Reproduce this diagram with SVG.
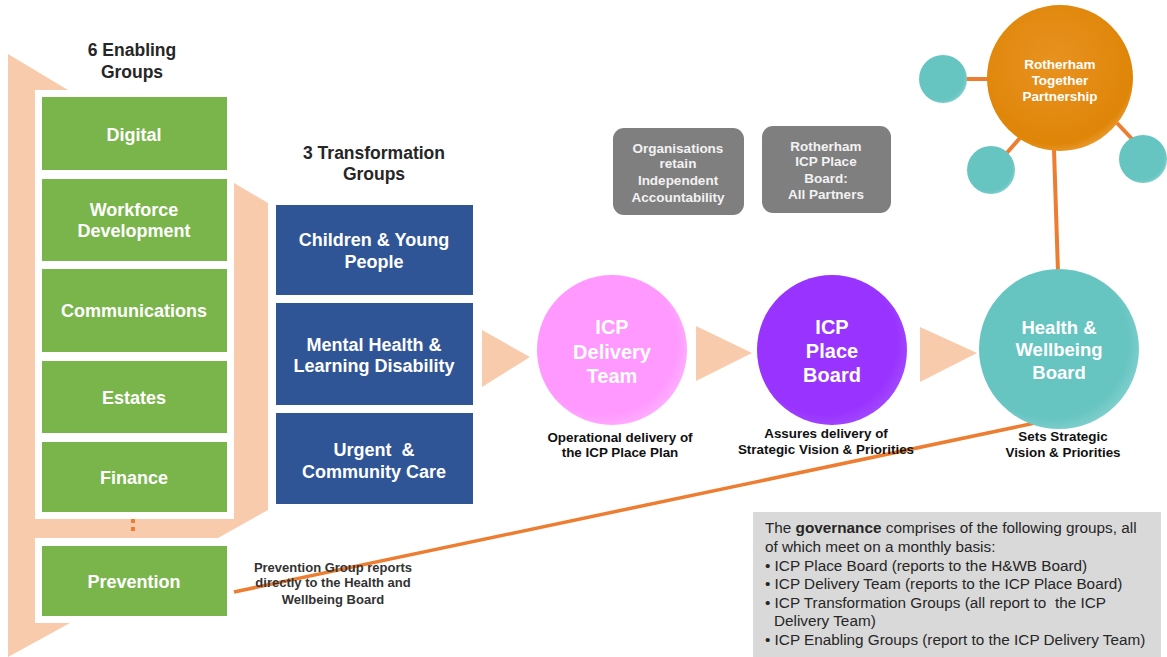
<svg xmlns="http://www.w3.org/2000/svg" width="1167" height="657" viewBox="0 0 1167 657">
<style>
.t{font-family:"Liberation Sans",Arial,sans-serif;font-weight:bold;text-anchor:middle}
.w{fill:#FFFFFF}
.dk{fill:#262626}
.gr{fill:#7AB54C}
.bl{fill:#2F5597}
.peach{fill:#F8CBAD}
.gbox{fill:#7F7F7F}
.con{stroke:#ED7D31;fill:none}
.gov{font-family:"Liberation Sans",Arial,sans-serif;font-size:15.3px;fill:#262626}
</style>
<defs>
<radialGradient id="gPink" cx="0.45" cy="0.45" r="0.6"><stop offset="0.8" stop-color="#FF99FF"/><stop offset="1" stop-color="#FFB3FF"/></radialGradient>
<radialGradient id="gPurp" cx="0.45" cy="0.45" r="0.6"><stop offset="0.8" stop-color="#9933FF"/><stop offset="1" stop-color="#A54DFF"/></radialGradient>
<radialGradient id="gTeal" cx="0.45" cy="0.45" r="0.6"><stop offset="0.8" stop-color="#66C4C1"/><stop offset="1" stop-color="#85D3D0"/></radialGradient>
<radialGradient id="gOr" cx="0.45" cy="0.4" r="0.65"><stop offset="0" stop-color="#E89220"/><stop offset="0.85" stop-color="#DF8508"/><stop offset="1" stop-color="#F0A440"/></radialGradient>
</defs>
<rect width="1167" height="657" fill="#FFFFFF"/>

<g id="background-arrows">
<path class="peach" d="M8,54 L68,90 L35,90 L35,519 L234,519 L234,183 L268,203 L268,510 L218,538 L35,538 L35,623 L70,623 L8,657 Z"/>
<rect x="131" y="519" width="4" height="4" fill="#ED7D31"/>
<rect x="131" y="527" width="4" height="4" fill="#ED7D31"/>
<polygon class="peach" points="482,330 530,357 482,387"/>
<polygon class="peach" points="696,326 752,353 696,381"/>
<polygon class="peach" points="920,327 977,353 920,382"/>
</g>

<g id="titles">
<text class="t dk" font-size="17.5" x="132" y="56">6 Enabling</text>
<text class="t dk" font-size="17.5" x="132" y="78">Groups</text>
<text class="t dk" font-size="17.5" x="374" y="159">3 Transformation</text>
<text class="t dk" font-size="17.5" x="374" y="180">Groups</text>
</g>

<g id="connectors">
<line class="con" x1="234" y1="592" x2="1035" y2="423" stroke-width="3.5"/>
<line class="con" x1="1054" y1="150" x2="1058" y2="272" stroke-width="4"/>
<line class="con" x1="965" y1="79" x2="990" y2="79" stroke-width="4"/>
<line class="con" x1="1005" y1="155" x2="1020" y2="138" stroke-width="4"/>
<line class="con" x1="1117" y1="123" x2="1133" y2="140" stroke-width="4"/>
</g>

<g id="digital"><rect class="gr" x="42" y="97" width="185" height="73"/><text class="t w" font-size="18" x="134" y="141">Digital</text></g>
<g id="workforce"><rect class="gr" x="42" y="179" width="185" height="82"/><text class="t w" font-size="18" x="134" y="216">Workforce</text><text class="t w" font-size="18" x="134" y="237">Development</text></g>
<g id="communications"><rect class="gr" x="42" y="269" width="185" height="83"/><text class="t w" font-size="18" x="134" y="317">Communications</text></g>
<g id="estates"><rect class="gr" x="42" y="361" width="185" height="72"/><text class="t w" font-size="18" x="134" y="404">Estates</text></g>
<g id="finance"><rect class="gr" x="42" y="442" width="185" height="70"/><text class="t w" font-size="18" x="134" y="484">Finance</text></g>
<g id="prevention"><rect class="gr" x="42" y="546" width="185" height="70"/><text class="t w" font-size="18" x="134" y="588">Prevention</text></g>

<g id="children"><rect class="bl" x="276" y="205" width="197" height="90"/><text class="t w" font-size="18" x="374" y="246">Children &amp; Young</text><text class="t w" font-size="18" x="374" y="268">People</text></g>
<g id="mental-health"><rect class="bl" x="276" y="303" width="197" height="102"/><text class="t w" font-size="18" x="374" y="351">Mental Health &amp;</text><text class="t w" font-size="18" x="374" y="372">Learning Disability</text></g>
<g id="urgent-care"><rect class="bl" x="276" y="413" width="197" height="91"/><text class="t w" font-size="18" x="374" y="456" xml:space="preserve">Urgent  &amp;</text><text class="t w" font-size="18" x="374" y="478">Community Care</text></g>

<g id="organisations"><rect class="gbox" x="613" y="128" width="131" height="87" rx="11"/>
<text class="t" fill="#F2F2F2" font-size="13.5" x="678" y="153">Organisations</text>
<text class="t" fill="#F2F2F2" font-size="13.5" x="678" y="168">retain</text>
<text class="t" fill="#F2F2F2" font-size="13.5" x="678" y="185">Independent</text>
<text class="t" fill="#F2F2F2" font-size="13.5" x="678" y="202">Accountability</text></g>
<g id="place-board-partners"><rect class="gbox" x="762" y="126" width="129" height="87" rx="11"/>
<text class="t" fill="#F2F2F2" font-size="13.5" x="826" y="151">Rotherham</text>
<text class="t" fill="#F2F2F2" font-size="13.5" x="826" y="166">ICP Place</text>
<text class="t" fill="#F2F2F2" font-size="13.5" x="826" y="183">Board:</text>
<text class="t" fill="#F2F2F2" font-size="13.5" x="826" y="199">All Partners</text></g>

<g id="delivery-team"><circle cx="612" cy="350" r="75" fill="url(#gPink)"/>
<text class="t w" font-size="20" x="612" y="334">ICP</text>
<text class="t w" font-size="20" x="612" y="359">Delivery</text>
<text class="t w" font-size="20" x="612" y="383">Team</text>
<text class="t" fill="#111" font-size="13.4" x="620" y="442">Operational delivery of</text>
<text class="t" fill="#111" font-size="13.4" x="620" y="457">the ICP Place Plan</text></g>

<g id="place-board"><circle cx="832" cy="350" r="75" fill="url(#gPurp)"/>
<text class="t w" font-size="20" x="832" y="334">ICP</text>
<text class="t w" font-size="20" x="832" y="358">Place</text>
<text class="t w" font-size="20" x="832" y="382">Board</text>
<text class="t" fill="#111" font-size="13.4" x="826" y="438">Assures delivery of</text>
<text class="t" fill="#111" font-size="13.4" x="826" y="454">Strategic Vision &amp; Priorities</text></g>

<g id="hwb"><circle cx="1059" cy="349" r="80" fill="url(#gTeal)"/>
<text class="t w" font-size="18.5" x="1059" y="334">Health &amp;</text>
<text class="t w" font-size="18.5" x="1059" y="356">Wellbeing</text>
<text class="t w" font-size="18.5" x="1059" y="379">Board</text>
<text class="t" fill="#111" font-size="13.4" x="1063" y="441">Sets Strategic</text>
<text class="t" fill="#111" font-size="13.4" x="1063" y="457">Vision &amp; Priorities</text></g>

<g id="rtp"><circle cx="1060" cy="78" r="73" fill="url(#gOr)"/>
<text class="t w" font-size="13.5" x="1060" y="69">Rotherham</text>
<text class="t w" font-size="13.5" x="1060" y="85">Together</text>
<text class="t w" font-size="13.5" x="1060" y="101">Partnership</text></g>
<g id="rtp-satellite-1"><circle cx="943" cy="79" r="24" fill="url(#gTeal)"/></g>
<g id="rtp-satellite-2"><circle cx="991" cy="170" r="24" fill="url(#gTeal)"/></g>
<g id="rtp-satellite-3"><circle cx="1143" cy="159" r="24" fill="url(#gTeal)"/></g>

<g id="prevention-note">
<text class="t" fill="#333" font-size="13" x="333" y="572">Prevention Group reports</text>
<text class="t" fill="#333" font-size="13" x="333" y="587">directly to the Health and</text>
<text class="t" fill="#333" font-size="13" x="333" y="604">Wellbeing Board</text>
</g>

<g id="governance">
<rect x="753" y="512" width="408" height="145" fill="#D9D9D9"/>
<text class="gov" x="765" y="533">The <tspan font-weight="bold">governance</tspan> comprises of the following groups, all</text>
<text class="gov" x="765" y="552">of which meet on a monthly basis:</text>
<text class="gov" x="765" y="571">• ICP Place Board (reports to the H&amp;WB Board)</text>
<text class="gov" x="765" y="589">• ICP Delivery Team (reports to the ICP Place Board)</text>
<text class="gov" x="765" y="608" xml:space="preserve">• ICP Transformation Groups (all report to  the ICP</text>
<text class="gov" x="774" y="626">Delivery Team)</text>
<text class="gov" x="765" y="645">• ICP Enabling Groups (report to the ICP Delivery Team)</text>
</g>
</svg>
